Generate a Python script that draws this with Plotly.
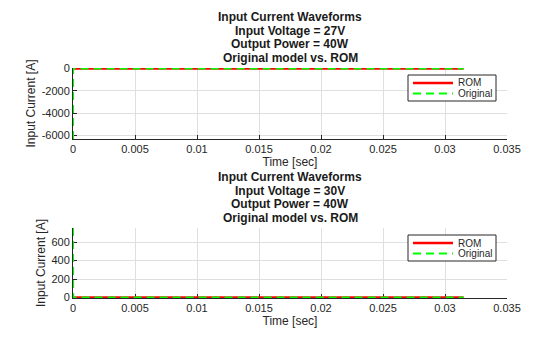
import plotly.graph_objects as go

# ---- data -------------------------------------------------------------
time_27v = [0.0, 0.00001, 0.0005, 0.0315]
rom_27v = [1.6, 1.6, 1.5, 1.5]
orig_27v = [-6330.0, 1.6, 1.5, 1.5]

time_30v = [0.0, 0.00001, 0.0005, 0.0315]
rom_30v = [1.4, 1.4, 1.3, 1.3]
orig_30v = [752.0, 1.4, 1.3, 1.3]

titles_27v = ["Input Current Waveforms", "Input Voltage = 27V",
              "Output Power = 40W", "Original model vs. ROM"]
titles_30v = ["Input Current Waveforms", "Input Voltage = 30V",
              "Output Power = 40W", "Original model vs. ROM"]

x_ticks = [0, 0.005, 0.01, 0.015, 0.02, 0.025, 0.03, 0.035]
x_tick_labels = ["0", "0.005", "0.01", "0.015", "0.02", "0.025", "0.03", "0.035"]
y_ticks_27v = [-6000, -4000, -2000, 0]
y_tick_labels_27v = ["-6000", "-4000", "-2000", "0"]
y_ticks_30v = [0, 200, 400, 600]
y_tick_labels_30v = ["0", "200", "400", "600"]

series_names = ["ROM", "Original"]

# ---- layout geometry (pixels) -------------------------------------------
W, H = 560, 337
PLOT_L, PLOT_R = 73, 507
TOP_AX = (68, 139)
BOT_AX = (228, 298)

FONT = "Liberation Sans, Arial, sans-serif"
TXT = "#262626"
GRID = "#dfdfdf"
RED = "#ff0000"
GREEN = "#00ff00"
DASH = "8px,5px"


def px(x):
    return x / W


def py(y):
    return 1 - y / H


fig = go.Figure()

for (t, rom, orig, xa, ya) in [(time_27v, rom_27v, orig_27v, "x", "y"),
                               (time_30v, rom_30v, orig_30v, "x2", "y2")]:
    fig.add_trace(go.Scatter(x=t, y=rom, mode="lines", name=series_names[0],
                             line=dict(color=RED, width=2.5),
                             xaxis=xa, yaxis=ya, showlegend=False))
    fig.add_trace(go.Scatter(x=t, y=orig, mode="lines", name=series_names[1],
                             line=dict(color=GREEN, width=2, dash=DASH),
                             cliponaxis=False,
                             xaxis=xa, yaxis=ya, showlegend=False))

common_x = dict(range=[0, 0.035], tickvals=x_ticks, ticktext=x_tick_labels,
                showgrid=True, gridcolor=GRID, gridwidth=1, zeroline=False,
                showline=True, linecolor=TXT, linewidth=1, mirror=False,
                ticks="inside", ticklen=4, tickcolor=TXT, tickwidth=1,
                tickfont=dict(family=FONT, size=11, color=TXT),
                title=dict(text="Time [sec]", font=dict(family=FONT, size=12, color=TXT),
                           standoff=3),
                automargin=False, layer="below traces",
                domain=[px(PLOT_L), px(PLOT_R)])
common_y = dict(showgrid=True, gridcolor=GRID, gridwidth=1, zeroline=False,
                showline=True, linecolor=TXT, linewidth=1, mirror=False,
                ticks="inside", ticklen=4, tickcolor=TXT, tickwidth=1,
                tickfont=dict(family=FONT, size=11, color=TXT),
                title=dict(text="Input Current [A]", font=dict(family=FONT, size=12, color=TXT),
                           standoff=3),
                automargin=False, layer="below traces")

fig.update_layout(
    width=W, height=H,
    margin=dict(l=0, r=0, t=0, b=0),
    paper_bgcolor="white", plot_bgcolor="white",
    showlegend=False,
    xaxis=dict(common_x, anchor="y"),
    xaxis2=dict(common_x, anchor="y2"),
    yaxis=dict(common_y, anchor="x", range=[-6330, 40],
               tickvals=y_ticks_27v, ticktext=y_tick_labels_27v,
               domain=[py(TOP_AX[1]), py(TOP_AX[0])]),
    yaxis2=dict(common_y, anchor="x2", range=[-4, 752],
                tickvals=y_ticks_30v, ticktext=y_tick_labels_30v,
                domain=[py(BOT_AX[1]), py(BOT_AX[0])]),
)

# titles (one annotation per line for tight spacing)
cx = (PLOT_L + PLOT_R) / 2
for lines, (top, _) in [(titles_27v, TOP_AX), (titles_30v, BOT_AX)]:
    for i, line in enumerate(lines):
        fig.add_annotation(x=px(cx), y=py(top - 51 + 13.7 * i), xref="paper", yref="paper",
                           text=f"<b>{line}</b>", showarrow=False,
                           xanchor="center", yanchor="middle",
                           font=dict(family=FONT, size=12, color="#1a1a1a"))

# legend boxes
styles = [dict(color=RED, width=2.5), dict(color=GREEN, width=2, dash=DASH)]
for (top, _) in [TOP_AX, BOT_AX]:
    bx0, bx1 = 408, 496
    by0, by1 = top + 7, top + 33
    fig.add_shape(type="rect", xref="paper", yref="paper",
                  x0=px(bx0), x1=px(bx1), y0=py(by0), y1=py(by1),
                  line=dict(color=TXT, width=1), fillcolor="white", layer="above")
    for i, (name, st) in enumerate(zip(series_names, styles)):
        yy = by0 + 8 + 10.5 * i
        fig.add_shape(type="line", xref="paper", yref="paper",
                      x0=px(413), x1=px(453), y0=py(yy), y1=py(yy),
                      line=st, layer="above")
        fig.add_annotation(x=px(456), y=py(yy), xref="paper", yref="paper",
                           text=name, showarrow=False, xanchor="left", yanchor="middle",
                           font=dict(family=FONT, size=10, color=TXT))

fig.write_html("out.html")
